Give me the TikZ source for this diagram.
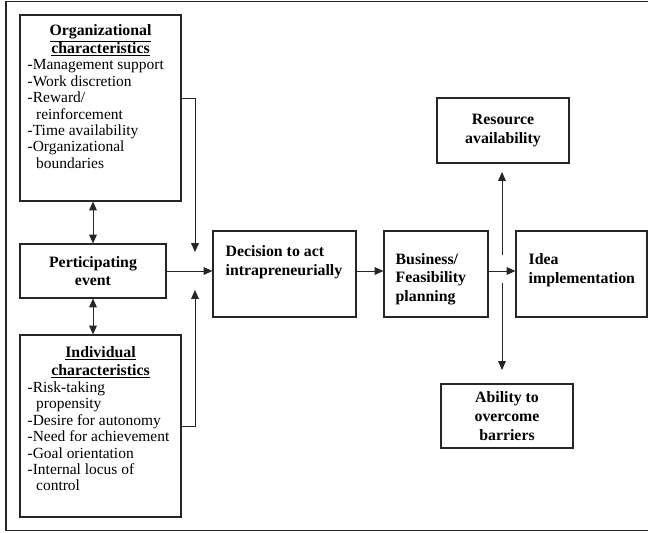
\documentclass[tikz,border=0pt]{standalone}
\usepackage{fontspec}
\setmainfont{Liberation Serif}
\usetikzlibrary{arrows.meta,calc,positioning}

\tikzset{
  box/.style={draw=black!85, line width=0.95pt, inner sep=0pt},
  head/.style={inner sep=0pt, align=center, font=\fontsize{13.5}{15.5}\selectfont\bfseries},
  lst/.style={inner sep=0pt, align=left, font=\fontsize{13.2}{14}\selectfont},
  btxt/.style={inner sep=0pt, align=left, font=\fontsize{13.5}{16}\selectfont\bfseries},
  ctxt/.style={box, align=center, font=\fontsize{13.5}{16}\selectfont\bfseries},
  arr/.style={draw=black!85, line width=0.85pt, -{Triangle[length=7.5pt,width=6.5pt]}},
  darr/.style={arr, {Triangle[length=7.5pt,width=6.5pt]}-{Triangle[length=7.5pt,width=6.5pt]}}
}

\begin{document}
\begin{tikzpicture}[x=0.03cm,y=-0.03cm]
  \useasboundingbox (0,0) rectangle (648,532);
  % outer frame
  \draw[draw=black!85, line width=0.95pt] (6,1.5) rectangle (670,530.5);

  % left column
  \node[box, minimum width=4.83cm, minimum height=5.58cm] (org) at (100.5,108) {};
  \node[head, anchor=north] (orghead) at ($(org.north)+(0,10)$)
    {\underline{Organizational}\\\underline{characteristics}};
  \node[lst, anchor=north west] (orglist) at ($(org.west |- orghead.south)+(8,3)$)
    {-Management support\\-Work discretion\\-Reward/\\\hspace*{0.55em}reinforcement\\-Time availability\\-Organizational\\\hspace*{0.55em}boundaries};

  \node[ctxt, minimum width=4.38cm, minimum height=1.62cm] (part) at (93,271)
    {Perticipating\\event};

  \node[box, minimum width=4.83cm, minimum height=5.46cm] (ind) at (100.5,426) {};
  \node[head, anchor=north] (indhead) at ($(ind.north)+(0,12)$)
    {\underline{Individual}\\\underline{characteristics}};
  \node[lst, anchor=north west] (indlist) at ($(ind.west |- indhead.south)+(8,3)$)
    {-Risk-taking\\\hspace*{0.55em}propensity\\-Desire for autonomy\\-Need for achievement\\-Goal orientation\\-Internal locus of\\\hspace*{0.55em}control};

  % middle and right
  \node[box, minimum width=4.29cm, minimum height=2.58cm] (dec) at (284.5,274) {};
  \node[btxt, anchor=west] (dectxt) at ($(dec.west)+(13,-12)$) {Decision to act\\intrapreneurially};

  \node[box, minimum width=3.12cm, minimum height=2.58cm] (bus) at (436,274) {};
  \node[btxt, anchor=west] (bustxt) at ($(bus.west)+(12,5)$) {Business/\\Feasibility\\planning};

  \node[box, minimum width=3.93cm, minimum height=2.58cm] (idea) at (581.5,274) {};
  \node[btxt, anchor=west] (ideatxt) at ($(idea.west)+(13,-4)$) {Idea\\implementation};

  \node[ctxt, minimum width=3.96cm, minimum height=1.95cm] (res) at (503,130.5) {Resource\\availability};
  \node[ctxt, minimum width=3.96cm, minimum height=1.92cm] (abl) at (507,416) {Ability to\\overcome\\barriers};

  % free ends
  \coordinate (jtop) at (195,252);
  \coordinate (jbot) at (195,290);
  \coordinate (upfrom) at (502,255);
  \coordinate (uptip) at (502,172);
  \coordinate (dnfrom) at (502,283);
  \coordinate (dntip) at (502,370);

  % connectors
  \draw[darr] (part.north) -- (part.north |- org.south);
  \draw[darr] (part.south) -- (part.south |- ind.north);
  \draw[arr] ($(org.east)+(0,-10)$) -| (jtop);
  \draw[arr] (ind.east) -| (jbot);
  \draw[arr] (part.east) -- (part.east -| dec.west);
  \draw[arr] (dec.east |- part.east) -- (bus.west |- part.east);
  \draw[arr] (bus.east |- part.east) -- (idea.west |- part.east);
  \draw[arr] (upfrom) -- (uptip);
  \draw[arr] (dnfrom) -- (dntip);
\end{tikzpicture}
\end{document}
